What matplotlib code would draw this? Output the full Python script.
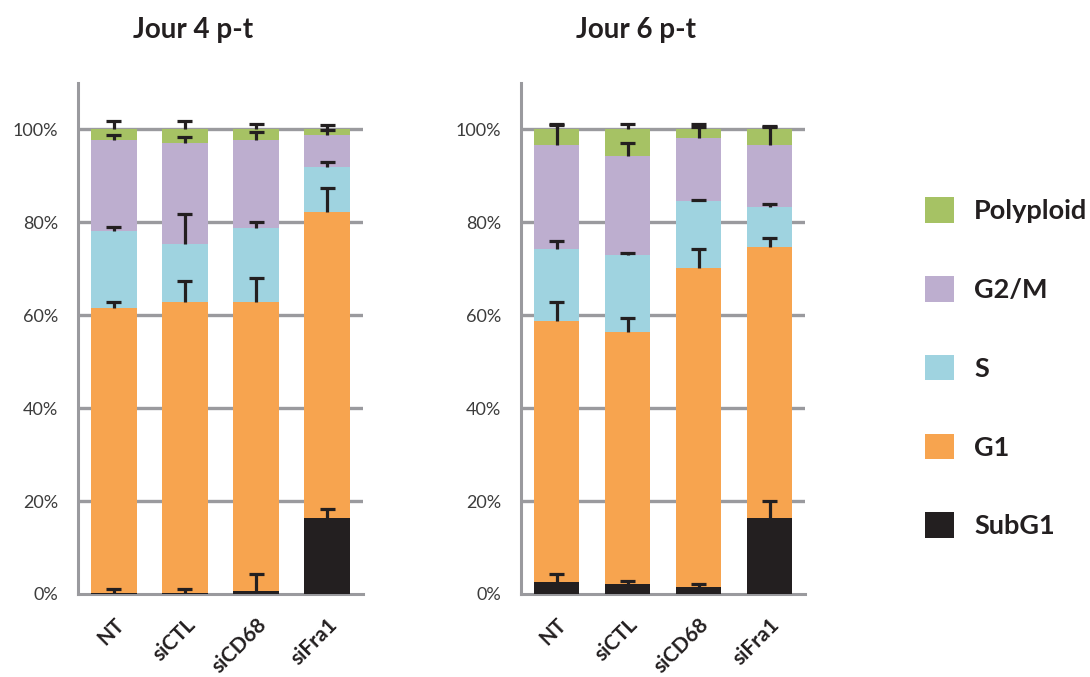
import matplotlib
matplotlib.use("Agg")
import matplotlib.pyplot as plt
from matplotlib.patches import Patch
import matplotlib.transforms as mtransforms
import numpy as np

categories = ["NT", "siCTL", "siCD68", "siFra1"]
phases = ["SubG1", "G1", "S", "G2/M", "Polyploid"]
colors = {"SubG1": "#231f20", "G1": "#f7a44f", "S": "#9fd3e0",
          "G2/M": "#bdaecf", "Polyploid": "#a6c264"}

# Day 4 (percent per phase)
d4_subg1 = [0.2, 0.2, 0.6, 16.4]
d4_g1 = [61.4, 62.6, 62.2, 65.8]
d4_s = [16.5, 12.5, 16.0, 9.7]
d4_g2m = [19.7, 21.8, 19.0, 7.0]
d4_poly = [2.2, 2.9, 2.2, 1.1]
d4_err_subg1 = [0.8, 0.8, 3.8, 1.8]
d4_err_g1 = [1.2, 4.6, 5.2, 5.3]
d4_err_s = [0.8, 6.4, 1.2, 1.2]
d4_err_g2m = [1.1, 1.2, 1.6, 1.0]
d4_err_poly = [1.8, 1.8, 1.1, 1.0]

# Day 6 (percent per phase)
d6_subg1 = [2.6, 2.1, 1.5, 16.4]
d6_g1 = [56.1, 54.3, 68.7, 58.4]
d6_s = [15.5, 16.6, 14.3, 8.5]
d6_g2m = [22.4, 21.3, 13.7, 13.3]
d6_poly = [3.4, 5.7, 1.8, 3.4]
d6_err_subg1 = [1.8, 0.7, 0.7, 3.6]
d6_err_g1 = [4.1, 3.0, 4.1, 1.8]
d6_err_s = [1.8, 0.3, 0.3, 0.7]
d6_err_g2m = [4.5, 2.8, 2.3, 4.1]
d6_err_poly = [1.0, 1.1, 1.1, 0.5]

yticks = [0, 20, 40, 60, 80, 100]
ytick_labels = ["0%", "20%", "40%", "60%", "80%", "100%"]

plt.rcParams['font.family'] = ['Lato', 'DejaVu Sans']

fig = plt.figure(figsize=(10.9, 6.77), dpi=100)
ax1 = fig.add_axes([0.0716, 0.1226, 0.2615, 0.7548])
ax2 = fig.add_axes([0.478, 0.1226, 0.2606, 0.7548])

grey = "#9a9a9e"
ink = "#231f20"


def draw(ax, vals, errs):
    x = np.arange(len(categories))
    bottom = np.zeros(len(categories))
    width = 0.645
    cap = 0.105
    for ph, v, e in zip(phases, vals, errs):
        v = np.array(v)
        e = np.array(e)
        ax.bar(x, v, width, bottom=bottom, color=colors[ph], zorder=3,
               linewidth=0)
        top = bottom + v
        ax.errorbar(x, top, yerr=[np.zeros(len(x)), e], fmt='none',
                    ecolor=ink, elinewidth=2.3, capsize=0, zorder=5)
        ax.hlines(top + e, x - cap, x + cap, color=ink, linewidth=2.3,
                  zorder=5)
        bottom = top
    ax.set_xlim(-0.5, 3.5)
    ax.set_ylim(0, 110)
    ax.set_yticks(yticks)
    ax.set_yticklabels(ytick_labels, fontsize=13, color="#3c3c3c")
    ax.set_xticks(x)
    ax.set_xticklabels(categories, rotation=45, ha='right', va='top',
                       rotation_mode='anchor', fontsize=15,
                       fontweight='bold', color=ink)
    off = mtransforms.ScaledTranslation(5 / 100, 0, fig.dpi_scale_trans)
    for lab in ax.get_xticklabels():
        lab.set_transform(lab.get_transform() + off)
    ax.tick_params(axis='y', length=0, pad=14.5)
    ax.tick_params(axis='x', length=0, pad=15)
    for s in ["top", "right"]:
        ax.spines[s].set_visible(False)
    for s in ["left", "bottom"]:
        ax.spines[s].set_color(grey)
        ax.spines[s].set_linewidth(2.2)
    for yv in yticks[1:]:
        ax.axhline(yv, color=grey, linewidth=2.4, zorder=1)


draw(ax1, [d4_subg1, d4_g1, d4_s, d4_g2m, d4_poly],
     [d4_err_subg1, d4_err_g1, d4_err_s, d4_err_g2m, d4_err_poly])
draw(ax2, [d6_subg1, d6_g1, d6_s, d6_g2m, d6_poly],
     [d6_err_subg1, d6_err_g1, d6_err_s, d6_err_g2m, d6_err_poly])

fig.text(193.5 / 1090, 1 - 38 / 677, "Jour 4 p-t", ha='center',
         va='baseline', fontsize=20, fontweight='bold', color=ink)
fig.text(636.5 / 1090, 1 - 38 / 677, "Jour 6 p-t", ha='center',
         va='baseline', fontsize=20, fontweight='bold', color=ink)

handles = [Patch(facecolor=colors[p], edgecolor='none') for p in phases[::-1]]
leg = fig.legend(handles, phases[::-1], loc='upper left',
                 bbox_to_anchor=(925 / 1090, 1 - 197 / 677), frameon=False,
                 prop={'size': 19.5, 'weight': 'bold'}, handlelength=1.08,
                 handleheight=1.08, labelspacing=1.95, handletextpad=0.74,
                 borderpad=0, borderaxespad=0)
for t in leg.get_texts():
    t.set_color(ink)

fig.savefig("out.png", dpi=100)
